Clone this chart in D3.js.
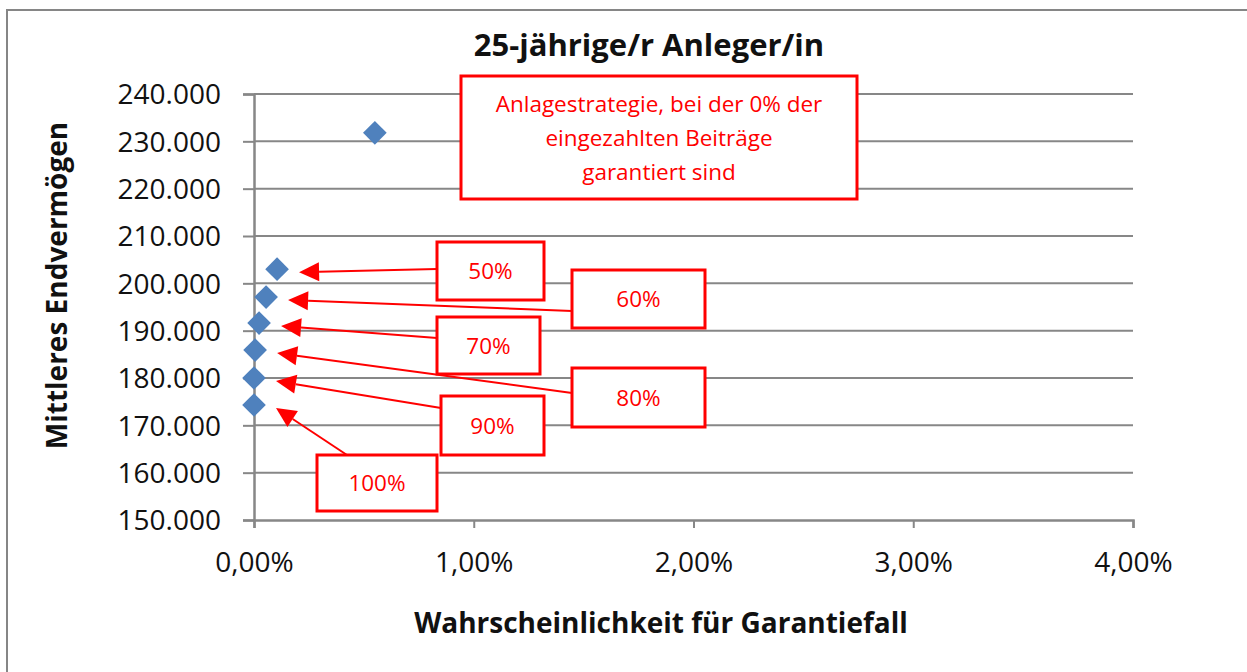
<!DOCTYPE html>
<html>
<head>
<meta charset="utf-8">
<script src="https://cdn.jsdelivr.net/npm/d3@7"></script>
<style>
  html, body { margin: 0; padding: 0; background: #fff; }
  svg { display: block; }
  text { font-family: "Open Sans", "Noto Sans", sans-serif; }
</style>
</head>
<body>
<svg id="chart" width="1247" height="672"></svg>
<script>
// ---- data ----
const strategies = ["0%", "50%", "60%", "70%", "80%", "90%", "100%"];
const probGarantiefall = [0.0055, 0.00105, 0.00055, 0.00023, 0.00005, 0.0, 0.0];
const endvermoegen = [231800, 203000, 197100, 191600, 185900, 180000, 174300];
const yTickValues = [150000, 160000, 170000, 180000, 190000, 200000, 210000, 220000, 230000, 240000];
const xTickValues = [0, 0.01, 0.02, 0.03, 0.04];
const titleText = "25-jährige/r Anleger/in";
const xTitleText = "Wahrscheinlichkeit für Garantiefall";
const yTitleText = "Mittleres Endvermögen";
const bigNoteLines = ["Anlagestrategie, bei der 0% der", "eingezahlten Beiträge", "garantiert sind"];

// ---- layout (annotation callouts, pixel boxes) ----
const callouts = [
  { label: "50%",  box: [437, 242, 544, 300], from: [437, 269] },
  { label: "60%",  box: [572, 270, 705, 328], from: [572, 311] },
  { label: "70%",  box: [437, 317, 540, 374], from: [437, 338] },
  { label: "80%",  box: [572, 368, 705, 427], from: [572, 393] },
  { label: "90%",  box: [441, 396, 544, 455], from: [441, 408] },
  { label: "100%", box: [317, 455, 437, 511], from: [347, 455] }
];
const bigBox = [461, 76, 857, 199];

const W = 1247, H = 672;
const plot = { left: 254, right: 1133, top: 94, bottom: 520 };
const red = "#FF0000", gridCol = "#878787", blue = "#4F81BD";

const svg = d3.select("#chart");
svg.append("rect").attr("x", 0).attr("y", 0).attr("width", W).attr("height", H).attr("fill", "#fff");
svg.append("rect").attr("x", 7).attr("y", 10).attr("width", W + 20).attr("height", H + 20)
  .attr("fill", "none").attr("stroke", "#868686").attr("stroke-width", 2);

const x = d3.scaleLinear().domain([0, 0.04]).range([plot.left, plot.right]);
const y = d3.scaleLinear().domain([150000, 240000]).range([plot.bottom, plot.top]);

const fmtY = v => d3.format(",")(v).replace(/,/g, ".");
const fmtX = v => (v * 100).toFixed(2).replace(".", ",") + "%";

// gridlines
svg.append("g").selectAll("line").data(yTickValues.filter(v => v > 150000)).join("line")
  .attr("x1", plot.left).attr("x2", plot.right)
  .attr("y1", d => y(d)).attr("y2", d => y(d))
  .attr("stroke", gridCol).attr("stroke-width", 2);

// y axis
const yAxis = svg.append("g").attr("transform", `translate(${plot.left},0)`)
  .call(d3.axisLeft(y).tickValues(yTickValues).tickFormat(fmtY).tickSize(11).tickPadding(22));
yAxis.select(".domain").attr("stroke", gridCol).attr("stroke-width", 2.5);
yAxis.selectAll(".tick line").attr("stroke", gridCol).attr("stroke-width", 2);
yAxis.selectAll(".tick text").attr("font-size", 28).attr("fill", "#111")
  .attr("font-family", "'Open Sans', sans-serif").attr("dy", "0.35em");

// x axis
const xAxis = svg.append("g").attr("transform", `translate(0,${plot.bottom})`)
  .call(d3.axisBottom(x).tickValues(xTickValues).tickFormat(fmtX).tickSize(8).tickPadding(24));
xAxis.select(".domain").attr("stroke", gridCol).attr("stroke-width", 2.5);
xAxis.selectAll(".tick line").attr("stroke", gridCol).attr("stroke-width", 2);
xAxis.selectAll(".tick text").attr("font-size", 28).attr("fill", "#111")
  .attr("font-family", "'Open Sans', sans-serif");

// titles
svg.append("text").attr("x", 649).attr("y", 56).attr("text-anchor", "middle")
  .attr("font-size", 31).attr("font-weight", "bold").attr("fill", "#111").text(titleText);
svg.append("text").attr("x", 661).attr("y", 633).attr("text-anchor", "middle")
  .attr("font-size", 28).attr("font-weight", "bold").attr("fill", "#111").text(xTitleText);
svg.append("text").attr("transform", "translate(67,285.5) rotate(-90)").attr("text-anchor", "middle")
  .attr("font-size", 28).attr("font-weight", "bold").attr("fill", "#111").text(yTitleText);

// points
const pts = strategies.map((s, i) => ({ s, x: probGarantiefall[i], y: endvermoegen[i] }));
svg.append("g").selectAll("path").data(pts).join("path")
  .attr("d", d3.symbol().type(d3.symbolSquare).size(280))
  .attr("transform", d => `translate(${x(d.x)},${y(d.y)}) rotate(45)`)
  .attr("fill", blue);

// big note box
svg.append("rect").attr("x", bigBox[0]).attr("y", bigBox[1])
  .attr("width", bigBox[2] - bigBox[0]).attr("height", bigBox[3] - bigBox[1])
  .attr("fill", "#fff").attr("stroke", red).attr("stroke-width", 3);
svg.append("g").selectAll("text").data(bigNoteLines).join("text")
  .attr("x", (bigBox[0] + bigBox[2]) / 2).attr("y", (d, i) => 112 + i * 34)
  .attr("text-anchor", "middle").attr("font-size", 22.5).attr("fill", red).text(d => d);

// callout arrows
const arrowG = svg.append("g");
callouts.forEach(c => {
  const p = pts.find(d => d.s === c.label);
  const tip = [x(p.x) + 22, y(p.y) + 3];
  const [fx, fy] = c.from;
  const ang = Math.atan2(tip[1] - fy, tip[0] - fx);
  const L = 20, hw = 9.5;
  const bx = tip[0] - L * Math.cos(ang), by = tip[1] - L * Math.sin(ang);
  const nx = -Math.sin(ang), ny = Math.cos(ang);
  arrowG.append("line").attr("x1", fx).attr("y1", fy).attr("x2", bx).attr("y2", by)
    .attr("stroke", red).attr("stroke-width", 2);
  arrowG.append("path")
    .attr("d", d3.line()([tip, [bx + nx * hw, by + ny * hw], [bx - nx * hw, by - ny * hw]]) + "Z")
    .attr("fill", red);
});

// callout boxes
const boxG = svg.append("g").selectAll("g").data(callouts).join("g");
boxG.append("rect").attr("x", d => d.box[0]).attr("y", d => d.box[1])
  .attr("width", d => d.box[2] - d.box[0]).attr("height", d => d.box[3] - d.box[1])
  .attr("fill", "#fff").attr("stroke", red).attr("stroke-width", 3);
boxG.append("text").attr("x", d => (d.box[0] + d.box[2]) / 2).attr("y", d => (d.box[1] + d.box[3]) / 2)
  .attr("dy", "0.36em").attr("text-anchor", "middle").attr("font-size", 22.5).attr("fill", red)
  .text(d => d.label);
</script>
</body>
</html>
